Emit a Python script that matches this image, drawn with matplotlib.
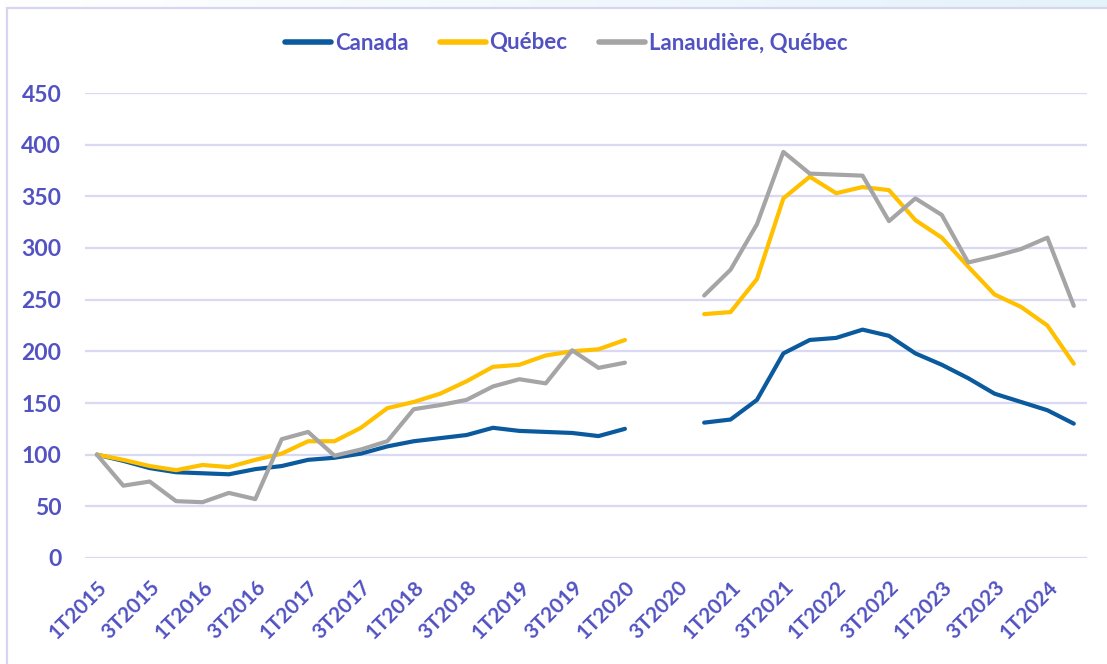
#!/usr/bin/env python3
"""Quarterly index (1T2015 = 100): Canada, Québec, Lanaudière."""

import numpy as np
import matplotlib.pyplot as plt
from matplotlib.colors import LinearSegmentedColormap
from matplotlib.patches import Rectangle
from matplotlib.lines import Line2D

nan = np.nan

QUARTERS = [
    "1T2015", "2T2015", "3T2015", "4T2015", "1T2016", "2T2016", "3T2016", "4T2016",
    "1T2017", "2T2017", "3T2017", "4T2017", "1T2018", "2T2018", "3T2018", "4T2018",
    "1T2019", "2T2019", "3T2019", "4T2019", "1T2020", "2T2020", "3T2020", "4T2020",
    "1T2021", "2T2021", "3T2021", "4T2021", "1T2022", "2T2022", "3T2022", "4T2022",
    "1T2023", "2T2023", "3T2023", "4T2023", "1T2024", "2T2024",
]

CANADA = [
    100, 94, 87, 83, 82, 81, 86, 89, 95, 97, 101, 108, 113, 116, 119, 126,
    123, 122, 121, 118, 125, nan, nan, 131, 134, 153, 198, 211, 213, 221,
    215, 198, 187, 174, 159, 151, 143, 130,
]
QUEBEC = [
    100, 95, 89, 85, 90, 88, 95, 101, 113, 113, 126, 145, 151, 159, 171, 185,
    187, 196, 200, 202, 211, nan, nan, 236, 238, 270, 348, 369, 353, 359,
    356, 327, 310, 282, 255, 243, 225, 188,
]
LANAUDIERE = [
    100, 70, 74, 55, 54, 63, 57, 115, 122, 99, 105, 113, 144, 148, 153, 166,
    173, 169, 201, 184, 189, nan, nan, 254, 279, 323, 393, 372, 371, 370,
    326, 348, 332, 286, 292, 299, 310, 244,
]
SERIES = ["Canada", "Québec", "Lanaudière, Québec"]

COLORS = ["#0B5A9E", "#FFC000", "#A5A5A5"]
TEXT = "#5252C2"
GRID = "#D9D9F3"
BORDER = "#D6D6F2"

plt.rcParams.update({
    "font.family": ["Lato", "DejaVu Sans"],
    "font.weight": "bold",
})


def main():
    fig = plt.figure(figsize=(11.07, 6.64), dpi=100)
    fig.patch.set_facecolor("white")

    # light blue band along the top, fading in from the left
    grad = np.linspace(0, 1, 256).reshape(1, -1)
    band = fig.add_axes([0, 1 - 8 / 664, 1, 8 / 664])
    band.imshow(grad, aspect="auto", extent=[0, 1, 0, 1],
                cmap=LinearSegmentedColormap.from_list("band", ["#FFFFFF", "#E4F2FA"]))
    band.axis("off")
    fig.patches.append(Rectangle((7 / 1107, -0.01), 1.1, 1 - 8 / 664 + 0.01,
                                 transform=fig.transFigure, fill=False,
                                 edgecolor=BORDER, linewidth=1.6))

    ax = fig.add_axes([85 / 1107, 106 / 664, 1002 / 1107, 465 / 664])
    x = np.arange(len(QUARTERS))
    for vals, color, name in zip([CANADA, QUEBEC, LANAUDIERE], COLORS, SERIES):
        ax.plot(x, vals, color=color, linewidth=3.0, label=name,
                solid_capstyle="round", solid_joinstyle="round")

    ax.set_xlim(-0.45, len(QUARTERS) - 0.5)
    ax.set_ylim(0, 450)
    ax.set_yticks(np.arange(0, 451, 50))
    ax.set_xticks(x[::2])
    ax.set_xticklabels(QUARTERS[::2], rotation=45, ha="right", va="top",
                       rotation_mode="anchor")
    ax.tick_params(axis="x", length=0, pad=14, labelsize=15, labelcolor=TEXT)
    ax.tick_params(axis="y", length=0, pad=17, labelsize=16.5, labelcolor=TEXT)
    ax.grid(True, axis="y", color=GRID, linewidth=1.6)
    ax.set_axisbelow(True)
    for spine in ax.spines.values():
        spine.set_visible(False)

    handles = [Line2D([], [], color=c, linewidth=4, solid_capstyle="round")
               for c in COLORS]
    fig.legend(handles, SERIES, loc="center", bbox_to_anchor=(566 / 1107, 1 - 43 / 664),
               ncol=3, frameon=False, fontsize=16, labelcolor=TEXT,
               handlelength=2.1, handletextpad=0.15, columnspacing=1.4)

    fig.savefig("out.png", dpi=100, facecolor="white")
    plt.close(fig)


if __name__ == "__main__":
    main()
